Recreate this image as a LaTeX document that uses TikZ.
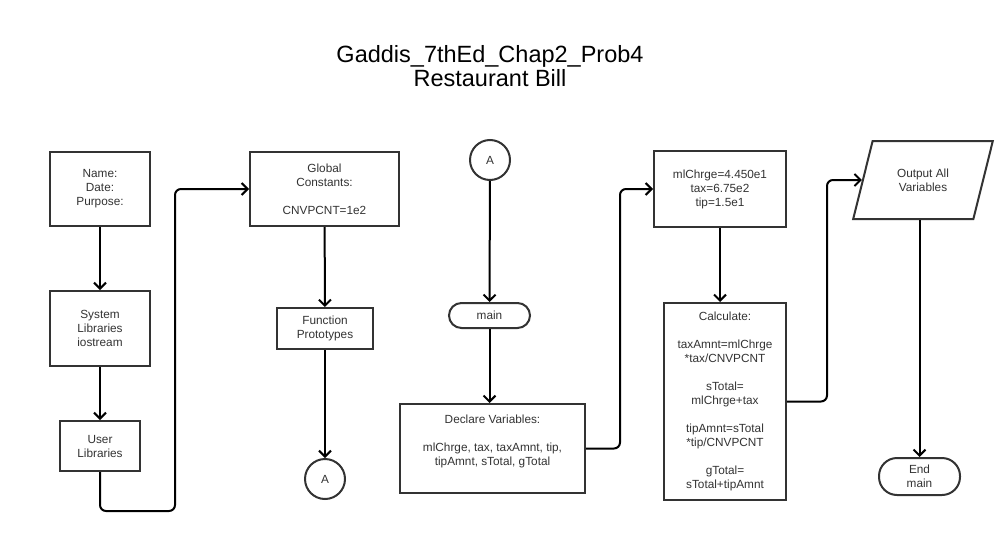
\documentclass[tikz,border=0pt]{standalone}
\usepackage{fontspec}
\setmainfont{Liberation Sans}
\usepackage{tikz}
\usetikzlibrary{arrows.meta,shapes.geometric}

\begin{document}
\begin{tikzpicture}[x=1pt,y=-1pt,
  box/.style={draw=black!80, line width=2pt, fill=white, text=black!80, align=center, inner sep=2pt, font=\fontsize{11.8}{14}\selectfont},
  term/.style={box, rounded corners=#1},
  flow/.style={line width=2pt, black, -{Straight Barb[length=6pt,width=12pt]}, rounded corners=6pt}]
\useasboundingbox (0,0) rectangle (995,535);

\node[font=\fontsize{23.5}{24}\selectfont, align=center](TTL) at (490,66) {Gaddis\_7thEd\_Chap2\_Prob4\\Restaurant Bill};

\node[box, minimum width=100pt, minimum height=74pt](NM) at (100,189) {Name:\\Date:\\Purpose:};
\node[box, minimum width=100pt, minimum height=75pt](SL) at (100,328.5) {System\\Libraries\\iostream};
\node[box, minimum width=80pt, minimum height=50pt](UL) at (100,446) {User\\Libraries};
\node[box, minimum width=149pt, minimum height=74pt](GC) at (324.5,189) {Global\\Constants:\\[14pt]CNVPCNT=1e2};
\node[box, minimum width=96pt, minimum height=41pt](FP) at (325,328.5) {Function\\Prototypes};
\node[box, circle, minimum size=40pt, inner sep=0pt](A1) at (325,479) {A};

\node[box, circle, minimum size=40pt, inner sep=0pt](A2) at (490,160) {A};
\node[term=12.5pt, minimum width=81pt, minimum height=25pt](MN) at (489.5,315.5) {main};
\node[box, minimum width=185pt, minimum height=89pt](DV) at (492.5,448.5) {Declare Variables:\\[14pt]mlChrge, tax, taxAmnt, tip,\\tipAmnt, sTotal, gTotal\\[2pt]{}};

\node[box, minimum width=132pt, minimum height=76pt](IN) at (720,189) {mlChrge=4.450e1\\tax=6.75e2\\tip=1.5e1};
\node[box, minimum width=122pt, minimum height=197pt](CA) at (725,401.5) {Calculate:\\[14pt]taxAmnt=mlChrge\\{}*tax/CNVPCNT\\[14pt]sTotal=\\mlChrge+tax\\[14pt]tipAmnt=sTotal\\{}*tip/CNVPCNT\\[14pt]gTotal=\\sTotal+tipAmnt};

\node[box, trapezium, trapezium left angle=68, trapezium right angle=112, trapezium stretches=true, minimum width=140pt, minimum height=78pt](OA) at (923,180) {Output All\\Variables};
\node[term=18pt, minimum width=81pt, minimum height=37pt](EM) at (919.5,476.5) {End\\main};

\coordinate (B1) at (175,511);
\coordinate (B2) at (620,300);
\coordinate (B3) at (827,300);

\draw[flow] (NM) -- (SL);
\draw[flow] (SL) -- (UL);
\draw[flow] (UL.south) |- (B1) |- (GC.west);
\draw[flow] (GC) -- (FP);
\draw[flow] (FP) -- (A1);
\draw[flow] (A2) -- (MN);
\draw[flow] (MN.south) -- (MN.south |- DV.north);
\draw[flow] (DV.east) -| (B2) |- (IN.west);
\draw[flow] (IN.south) -- (IN.south |- CA.north);
\draw[flow] (CA.east) -| (B3) |- (OA.west);
\draw[flow] (OA.south -| EM.north) -- (EM.north);

\end{tikzpicture}
\end{document}
